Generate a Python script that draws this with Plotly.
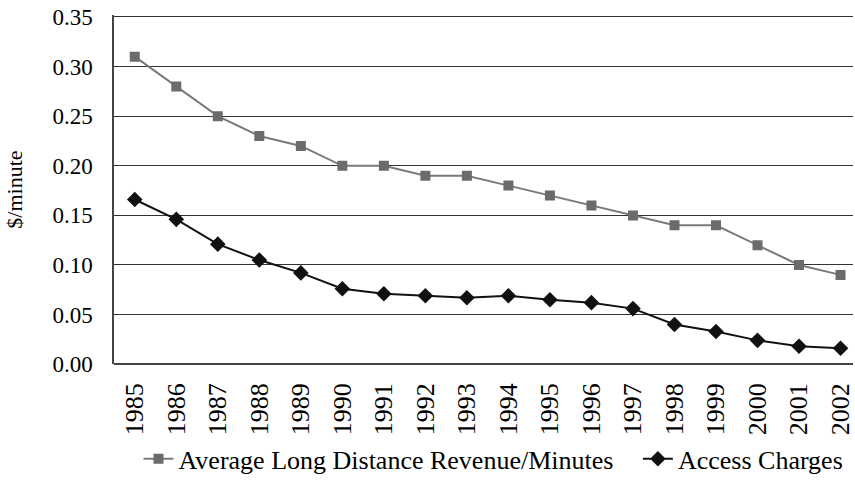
import plotly.graph_objects as go

years = [str(y) for y in range(1985, 2003)]
avg_revenue = [0.31, 0.28, 0.25, 0.23, 0.22, 0.20, 0.20, 0.19, 0.19, 0.18,
               0.17, 0.16, 0.15, 0.14, 0.14, 0.12, 0.10, 0.09]
access_charges = [0.166, 0.146, 0.121, 0.105, 0.092, 0.076, 0.071, 0.069, 0.067, 0.069,
                  0.065, 0.062, 0.056, 0.040, 0.033, 0.024, 0.018, 0.016]
y_ticks = [0.0, 0.05, 0.10, 0.15, 0.20, 0.25, 0.30, 0.35]

font = "Liberation Serif, Times New Roman, serif"

fig = go.Figure()
fig.add_trace(go.Scatter(
    x=years, y=avg_revenue, mode="lines+markers",
    # nbsp padding widens the gap before the next legend item
    name="Average Long Distance Revenue/Minutes\u00a0\u00a0\u00a0",
    line=dict(color="#7a7a7a", width=2),
    marker=dict(symbol="square", size=10, color="#6b6b6b"),
))
fig.add_trace(go.Scatter(
    x=years, y=access_charges, mode="lines+markers",
    name="Access Charges",
    line=dict(color="#111111", width=2),
    marker=dict(symbol="diamond", size=12, color="#111111"),
))

fig.update_layout(
    width=855, height=481,
    margin=dict(l=114, r=0, t=15, b=115),
    plot_bgcolor="white", paper_bgcolor="white",
    font=dict(family=font, size=23, color="black"),
    showlegend=True,
    legend=dict(orientation="h", xref="container", x=0.162, xanchor="left",
                yref="container", y=0.046, yanchor="middle",
                font=dict(size=26)),
)
fig.update_xaxes(
    type="category", range=[-0.5, 17.3], tickangle=-90,
    showgrid=False, showline=False, ticks="",
    tickfont=dict(size=26), ticklabelstandoff=13,
)
# range top a bit above 0.35 so the top gridline isn't dropped at the edge
fig.update_yaxes(
    range=[0, 0.352], tickvals=y_ticks, tickformat=".2f",
    showgrid=True, gridcolor="#333333", gridwidth=1,
    showline=True, linecolor="#444444", linewidth=1.5,
    zeroline=True, zerolinecolor="#444444", zerolinewidth=1.5,
    ticks="", ticklabelstandoff=15, ticklabeloverflow="allow",
    automargin="left",
    title=dict(text="$/minute", font=dict(size=22), standoff=24),
)

# drop the default 8px body margin so the figure fills the window
fig.write_html("out.html", config={"displayModeBar": False},
               post_script="document.body.style.margin = '0';")
